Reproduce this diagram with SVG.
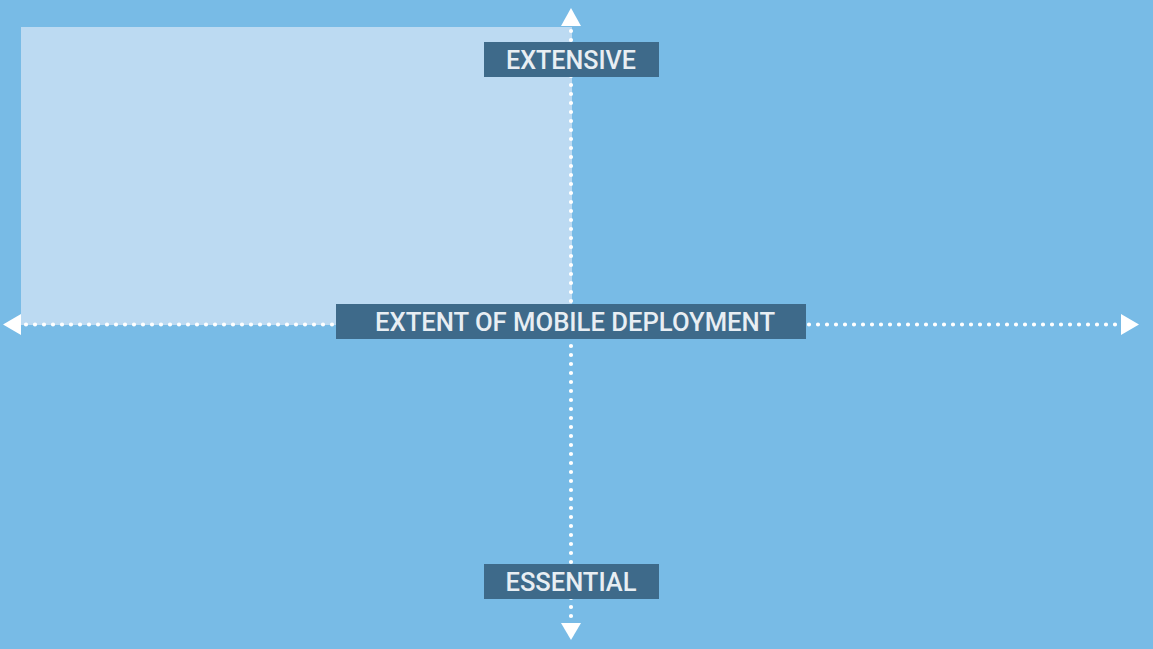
<svg xmlns="http://www.w3.org/2000/svg" width="1153" height="649" viewBox="0 0 1153 649">
<style>
.dots{stroke:#FFFFFF;stroke-width:4.2;stroke-linecap:round;stroke-dasharray:0 9;fill:none}
.head{fill:#FFFFFF}
.box{fill:#3E6A8A}
.lbl{font-family:"Roboto","Liberation Sans",sans-serif;font-weight:500;font-size:25px;fill:#E8EEF3;text-anchor:middle}
</style>
<rect x="0" y="0" width="1153" height="649" fill="#78BBE6"/>
<rect id="quadrant" x="21" y="27" width="551" height="298" fill="#BCDAF2"/>
<g id="connectors">
<line class="dots" x1="26" y1="324.5" x2="1116" y2="324.5"/>
<line class="dots" x1="571" y1="31" x2="571" y2="620"/>
<polygon class="head" points="571,8 561,26 581,26"/>
<polygon class="head" points="571,640 561,623 581,623"/>
<polygon class="head" points="3,324.5 21,314 21,335"/>
<polygon class="head" points="1139,324.5 1121,314 1121,335"/>
</g>
<g id="extensive">
<rect class="box" x="484" y="42" width="175" height="35"/>
<text class="lbl" x="571" y="68.5" textLength="130" lengthAdjust="spacingAndGlyphs">EXTENSIVE</text>
</g>
<g id="extent">
<rect class="box" x="336" y="304" width="470" height="35"/>
<text class="lbl" x="575" y="331" textLength="400" lengthAdjust="spacingAndGlyphs">EXTENT OF MOBILE DEPLOYMENT</text>
</g>
<g id="essential">
<rect class="box" x="484" y="564" width="175" height="35"/>
<text class="lbl" x="571" y="591" textLength="131" lengthAdjust="spacingAndGlyphs">ESSENTIAL</text>
</g>
</svg>
